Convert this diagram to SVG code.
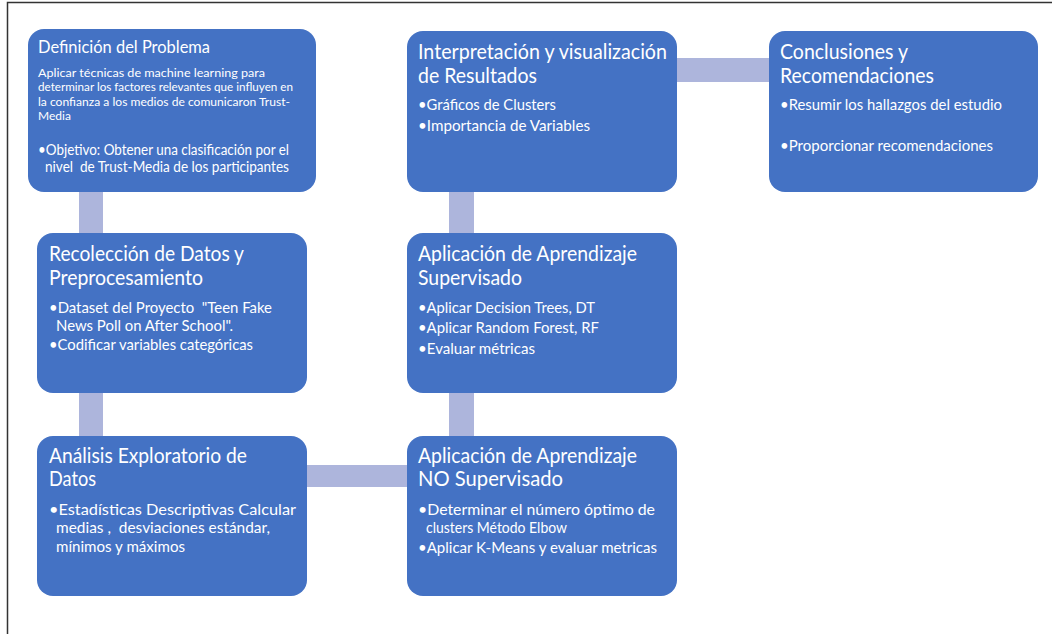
<svg xmlns="http://www.w3.org/2000/svg" width="1052" height="634" viewBox="0 0 1052 634">
<style>
.box{fill:#4472c4;}
.con{fill:#adb5dc;}
text{fill:#ffffff;font-family:Lato,"Open Sans","Liberation Sans",sans-serif;}
.t{font-size:20.5px;}
.b{font-size:15px;}
.s{font-size:12px;}
.m{font-size:14.5px;}
</style>
<rect x="0" y="0" width="1052" height="634" fill="#ffffff"/>
<path d="M7.5,634 V2.5 H1052" fill="none" stroke="#333333" stroke-width="1.5"/>
<g id="connectors">
<rect class="con" x="79" y="190" width="24" height="45"/>
<rect class="con" x="79" y="391" width="24" height="47"/>
<rect class="con" x="305" y="465" width="104" height="22"/>
<rect class="con" x="449" y="391" width="25" height="47"/>
<rect class="con" x="449" y="190" width="25" height="45"/>
<rect class="con" x="675" y="58" width="96" height="24"/>
</g>
<g id="n1">
<rect class="box" x="28" y="29" width="288" height="163" rx="16"/>
<text class="t" x="38" y="53" textLength="172" lengthAdjust="spacingAndGlyphs" style="font-size:18px">Definición del Problema</text>
<text class="s" x="38" y="77" textLength="227" lengthAdjust="spacingAndGlyphs">Aplicar técnicas de machine learning para</text>
<text class="s" x="38" y="91" textLength="255" lengthAdjust="spacingAndGlyphs">determinar los factores relevantes que influyen en</text>
<text class="s" x="38" y="106" textLength="252" lengthAdjust="spacingAndGlyphs">la confianza a los medios de comunicaron Trust-</text>
<text class="s" x="38" y="120">Media</text>
<text class="m" x="38" y="155" textLength="251" lengthAdjust="spacingAndGlyphs">•Objetivo: Obtener una clasificación por el</text>
<text class="m" x="45" y="172" textLength="244" lengthAdjust="spacingAndGlyphs" xml:space="preserve">nivel  de Trust-Media de los participantes</text>
</g>
<g id="n2">
<rect class="box" x="37" y="233" width="270" height="160" rx="16"/>
<text class="t" x="49" y="261" textLength="195" lengthAdjust="spacingAndGlyphs">Recolección de Datos y</text>
<text class="t" x="49" y="285" textLength="154" lengthAdjust="spacingAndGlyphs">Preprocesamiento</text>
<text class="b" x="49" y="313" textLength="223" lengthAdjust="spacingAndGlyphs" xml:space="preserve">•Dataset del Proyecto  "Teen Fake</text>
<text class="b" x="56" y="331" textLength="177" lengthAdjust="spacingAndGlyphs">News Poll on After School".</text>
<text class="b" x="49" y="350" textLength="204" lengthAdjust="spacingAndGlyphs">•Codificar variables categóricas</text>
</g>
<g id="n3">
<rect class="box" x="37" y="436" width="270" height="160" rx="16"/>
<text class="t" x="49" y="463" textLength="198" lengthAdjust="spacingAndGlyphs">Análisis Exploratorio de</text>
<text class="t" x="49" y="486" textLength="47" lengthAdjust="spacingAndGlyphs">Datos</text>
<text class="b" x="49" y="515" textLength="247" lengthAdjust="spacingAndGlyphs">•Estadísticas Descriptivas Calcular</text>
<text class="b" x="56" y="533" textLength="214" lengthAdjust="spacingAndGlyphs" xml:space="preserve">medias ,  desviaciones estándar,</text>
<text class="b" x="56" y="552" textLength="129" lengthAdjust="spacingAndGlyphs">mínimos y máximos</text>
</g>
<g id="n4">
<rect class="box" x="407" y="436" width="270" height="160" rx="16"/>
<text class="t" x="418" y="463" textLength="219" lengthAdjust="spacingAndGlyphs">Aplicación de Aprendizaje</text>
<text class="t" x="418" y="486" textLength="145" lengthAdjust="spacingAndGlyphs">NO Supervisado</text>
<text class="b" x="418" y="515" textLength="237" lengthAdjust="spacingAndGlyphs">•Determinar el número óptimo de</text>
<text class="b" x="426" y="533" textLength="141" lengthAdjust="spacingAndGlyphs">clusters Método Elbow</text>
<text class="b" x="418" y="553" textLength="239" lengthAdjust="spacingAndGlyphs">•Aplicar K-Means y evaluar metricas</text>
</g>
<g id="n5">
<rect class="box" x="407" y="233" width="270" height="160" rx="16"/>
<text class="t" x="418" y="261" textLength="219" lengthAdjust="spacingAndGlyphs">Aplicación de Aprendizaje</text>
<text class="t" x="418" y="285" textLength="104" lengthAdjust="spacingAndGlyphs">Supervisado</text>
<text class="b" x="418" y="313" textLength="177" lengthAdjust="spacingAndGlyphs">•Aplicar Decision Trees, DT</text>
<text class="b" x="418" y="333" textLength="181" lengthAdjust="spacingAndGlyphs">•Aplicar Random Forest, RF</text>
<text class="b" x="418" y="354" textLength="117" lengthAdjust="spacingAndGlyphs">•Evaluar métricas</text>
</g>
<g id="n6">
<rect class="box" x="407" y="31" width="270" height="161" rx="16"/>
<text class="t" x="418" y="59" textLength="249" lengthAdjust="spacingAndGlyphs">Interpretación y visualización</text>
<text class="t" x="418" y="83" textLength="119" lengthAdjust="spacingAndGlyphs">de Resultados</text>
<text class="b" x="418" y="110" textLength="138" lengthAdjust="spacingAndGlyphs">•Gráficos de Clusters</text>
<text class="b" x="418" y="131" textLength="172" lengthAdjust="spacingAndGlyphs">•Importancia de Variables</text>
</g>
<g id="n7">
<rect class="box" x="769" y="31" width="269" height="161" rx="16"/>
<text class="t" x="780" y="59" textLength="128" lengthAdjust="spacingAndGlyphs">Conclusiones y</text>
<text class="t" x="780" y="83" textLength="154" lengthAdjust="spacingAndGlyphs">Recomendaciones</text>
<text class="b" x="780" y="110" textLength="222" lengthAdjust="spacingAndGlyphs">•Resumir los hallazgos del estudio</text>
<text class="b" x="780" y="151" textLength="213" lengthAdjust="spacingAndGlyphs">•Proporcionar recomendaciones</text>
</g>
</svg>
